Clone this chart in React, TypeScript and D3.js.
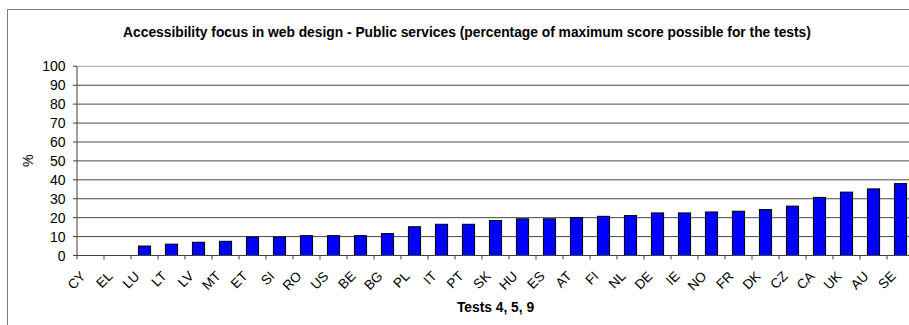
import React from "react";
import * as d3 from "d3";

const categories = ["CY","EL","LU","LT","LV","MT","ET","SI","RO","US","BE","BG","PL","IT","PT","SK","HU","ES","AT","FI","NL","DE","IE","NO","FR","DK","CZ","CA","UK","AU","SE"];
const values = [0,0,5,6,7,7.5,9.8,9.8,10.5,10.5,10.5,11.6,15.2,16.5,16.5,18.5,19.4,19.4,20.1,20.7,21.1,22.5,22.5,23,23.4,24.3,26.1,30.7,33.5,35.2,38];
const yTicks = [0,10,20,30,40,50,60,70,80,90,100];
const title = "Accessibility focus in web design - Public services (percentage of maximum score possible for the tests)";
const xTitle = "Tests 4, 5, 9";
const yTitle = "%";

const W = 909, H = 325;
const plotLeft = 77, plotRight = 914, plotTop = 66.3, plotBottom = 255.5;
const font = "'Liberation Sans', Arial, sans-serif";

export default function App() {
  const x = d3.scaleBand<string>().domain(categories).range([plotLeft, plotRight]).paddingInner(0).paddingOuter(0);
  const y = d3.scaleLinear().domain([0, 100]).range([plotBottom, plotTop]);
  const bw = x.bandwidth() * 0.45;
  return (
    <svg width={W} height={H} style={{ position: "absolute", left: 0, top: 0, background: "#fff" }}>
      <rect x={7.5} y={9.5} width={930} height={330} fill="#fff" stroke="#808080" strokeWidth={1} />
      <text x={467} y={37} textAnchor="middle" fontFamily={font} fontWeight="bold" fontSize={13.8} fill="#000">{title}</text>
      {yTicks.map((t) => (
        <g key={t}>
          {t > 0 && <line x1={plotLeft} x2={plotRight} y1={y(t)} y2={y(t)} stroke={t === 100 ? "#a0a0a0" : "#4a4a4a"} strokeWidth={1} />}
          <line x1={plotLeft - 4} x2={plotLeft} y1={y(t)} y2={y(t)} stroke="#404040" />
          <text x={65.5} y={y(t) + 5} textAnchor="end" fontFamily={font} fontSize={14} fill="#000">{t}</text>
        </g>
      ))}
      <line x1={plotLeft} x2={plotLeft} y1={plotTop} y2={plotBottom} stroke="#404040" />
      {categories.map((c, i) => (
        <rect key={c} x={(x(c) as number) + (x.bandwidth() - bw) / 2} y={y(values[i])} width={bw} height={plotBottom - y(values[i])} fill="#0000ff" stroke="#000" strokeWidth={1} />
      ))}
      <line x1={plotLeft} x2={plotRight} y1={plotBottom} y2={plotBottom} stroke="#404040" />
      {categories.map((c) => (
        <line key={"t" + c} x1={x(c) as number} x2={x(c) as number} y1={plotBottom} y2={plotBottom + 4} stroke="#404040" />
      ))}
      {categories.map((c) => {
        const cx = (x(c) as number) + x.bandwidth() / 2;
        return (
          <text key={"l" + c} transform={`translate(${cx - 4},${plotBottom + 21.5}) rotate(-45)`} textAnchor="end" fontFamily={font} fontSize={13.5} fill="#000">{c}</text>
        );
      })}
      <text x={(plotLeft + plotRight) / 2} y={311.5} textAnchor="middle" fontFamily={font} fontWeight="bold" fontSize={13.8} fill="#000">{xTitle}</text>
      <text transform={`translate(33,${(plotTop + plotBottom) / 2}) rotate(-90)`} textAnchor="middle" fontFamily={font} fontSize={14} fill="#000">{yTitle}</text>
    </svg>
  );
}
